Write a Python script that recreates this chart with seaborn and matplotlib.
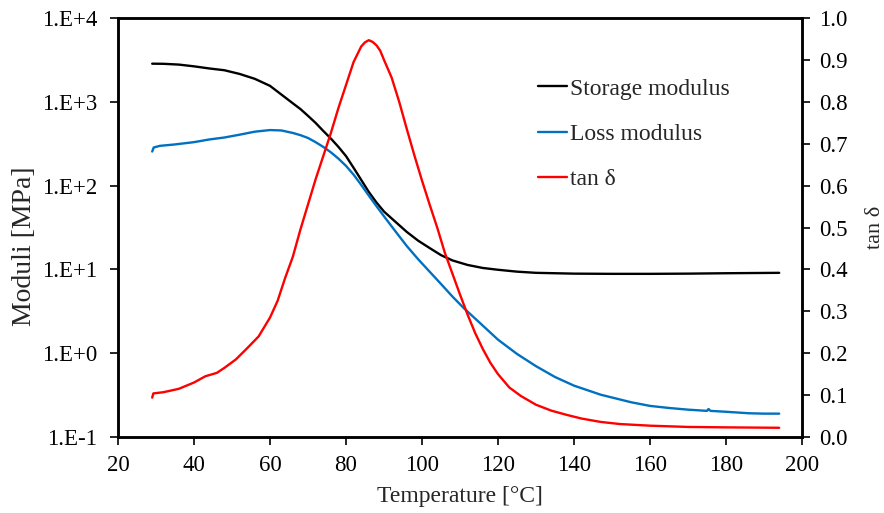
import numpy as np
import pandas as pd
import matplotlib
matplotlib.use("Agg")
import matplotlib.pyplot as plt
from matplotlib.ticker import FixedLocator, FuncFormatter, NullLocator
import seaborn as sns

# Storage modulus E' [MPa] vs temperature [°C]
temp_storage = [29, 32, 36, 40, 44, 48, 52, 56, 60, 63, 66, 68, 70, 72, 74, 76, 78,
                80, 82, 84, 86, 88, 90, 93, 96, 99, 102, 105, 108, 112, 116, 120,
                125, 130, 140, 150, 160, 170, 180, 194]
storage_modulus = [2850, 2840, 2780, 2650, 2500, 2380, 2150, 1880, 1550, 1220, 960,
                   820, 680, 560, 450, 365, 290, 225, 163, 117, 84, 63, 49, 37, 28,
                   22, 18, 14.8, 12.8, 11.3, 10.4, 9.9, 9.4, 9.1, 8.9, 8.85, 8.85,
                   8.9, 9.0, 9.1]

# Loss modulus E'' [MPa] vs temperature [°C]
temp_loss = [29, 29.4, 31, 35, 40, 44, 48, 52, 56, 60, 63, 66, 68, 70, 72, 74, 76,
             78, 80, 82, 84, 86, 88, 90, 93, 96, 99, 102, 105, 108, 111, 115, 120,
             125, 130, 135, 140, 147, 155, 160, 165, 170, 175, 175.4, 175.9, 180,
             186, 190, 194]
loss_modulus = [255, 285, 298, 310, 330, 355, 375, 405, 440, 460, 455, 425, 400,
                370, 330, 290, 250, 210, 172, 135, 102, 76, 57, 43, 28.5, 19.0,
                13.2, 9.4, 6.7, 4.75, 3.45, 2.35, 1.45, 0.98, 0.70, 0.52, 0.41,
                0.32, 0.26, 0.235, 0.222, 0.212, 0.205, 0.216, 0.205, 0.200,
                0.192, 0.190, 0.190]

# Loss factor tan δ vs temperature [°C]
temp_tan = [29, 29.3, 32, 36, 40, 43, 46, 48, 51, 54, 57, 60, 62, 64, 66, 68, 70,
            72, 74, 76, 78, 80, 82, 84, 85, 86, 87, 88, 89, 90, 92, 94, 96, 98, 100,
            102, 104, 106, 108, 110, 112, 114, 116, 118, 120, 123, 126, 130, 134,
            138, 142, 147, 152, 160, 170, 180, 194]
tan_delta = [0.094, 0.104, 0.107, 0.115, 0.130, 0.145, 0.153, 0.165, 0.185, 0.212,
             0.240, 0.285, 0.325, 0.380, 0.430, 0.495, 0.555, 0.615, 0.670, 0.725,
             0.785, 0.840, 0.895, 0.932, 0.942, 0.947, 0.943, 0.935, 0.922, 0.900,
             0.858, 0.800, 0.735, 0.672, 0.612, 0.555, 0.500, 0.440, 0.390, 0.340,
             0.292, 0.248, 0.210, 0.177, 0.150, 0.118, 0.098, 0.077, 0.063, 0.053,
             0.044, 0.036, 0.031, 0.027, 0.024, 0.023, 0.022]

x_ticks = [20, 40, 60, 80, 100, 120, 140, 160, 180, 200]
moduli_ticks = [0.1, 1, 10, 100, 1000, 10000]
tan_ticks = [0.0, 0.1, 0.2, 0.3, 0.4, 0.5, 0.6, 0.7, 0.8, 0.9, 1.0]

BLACK = "#000000"
BLUE = "#0070C0"
RED = "#FF0000"

sns.set_style("ticks")
plt.rcParams["font.family"] = ["Liberation Serif", "DejaVu Serif"]

fig = plt.figure(figsize=(8.84, 5.13), dpi=100)
ax = fig.add_axes([118 / 884, 1 - 437 / 513, 684 / 884, 419 / 513])
ax2 = ax.twinx()

lw = 1.7
sns.lineplot(x=temp_storage, y=storage_modulus, ax=ax, color=BLACK, lw=lw,
             label="Storage modulus", legend=False)
sns.lineplot(x=temp_loss, y=loss_modulus, ax=ax, color=BLUE, lw=lw,
             label="Loss modulus", legend=False)
sns.lineplot(x=temp_tan, y=tan_delta, ax=ax2, color=RED, lw=lw,
             label="tan δ", legend=False)

ax.set_yscale("log")
ax.set_xlim(20, 200)
ax.set_ylim(0.1, 10000)
ax2.set_ylim(0, 1.0)

ax.xaxis.set_major_locator(FixedLocator(x_ticks))
ax.yaxis.set_major_locator(FixedLocator(moduli_ticks))
ax.yaxis.set_minor_locator(NullLocator())
ax.yaxis.set_major_formatter(
    FuncFormatter(lambda v, _: "1.E{:+d}".format(int(round(np.log10(v))))))
ax2.yaxis.set_major_locator(FixedLocator(tan_ticks))
ax2.yaxis.set_major_formatter(FuncFormatter(lambda v, _: f"{v:.1f}"))

for a in (ax, ax2):
    for s in a.spines.values():
        s.set_linewidth(1.8)
        s.set_color("black")
        s.set_visible(True)
    a.grid(False)

ax.tick_params(axis="both", which="major", direction="out", length=6, width=1.2,
               labelsize=16.5, color="black", labelcolor="black")
ax.tick_params(axis="y", pad=9)
ax.tick_params(axis="x", pad=7)
ax2.tick_params(axis="y", which="major", direction="out", length=6, width=1.2,
                labelsize=16.5, pad=6, color="black", labelcolor="black")

ax.set_xlabel("Temperature [°C]", fontsize=17)
ax.set_ylabel("Moduli [MPa]", fontsize=20)
ax2.set_ylabel("tan δ", fontsize=16)
ax.xaxis.set_label_coords(0.5, -0.117)
ax.yaxis.set_label_coords(-0.118, 0.456)
ax2.yaxis.set_label_coords(1.0936, 0.5)

handles = ax.get_lines()[:2] + ax2.get_lines()[:1]
labels = [h.get_label() for h in handles]
ax2.legend(handles, labels, loc="upper left", bbox_to_anchor=(0.6, 0.879),
           frameon=False, fontsize=17, handlelength=1.25, handletextpad=0.1,
           labelspacing=1.0, borderaxespad=0)

fig.savefig("out.png", dpi=100)
